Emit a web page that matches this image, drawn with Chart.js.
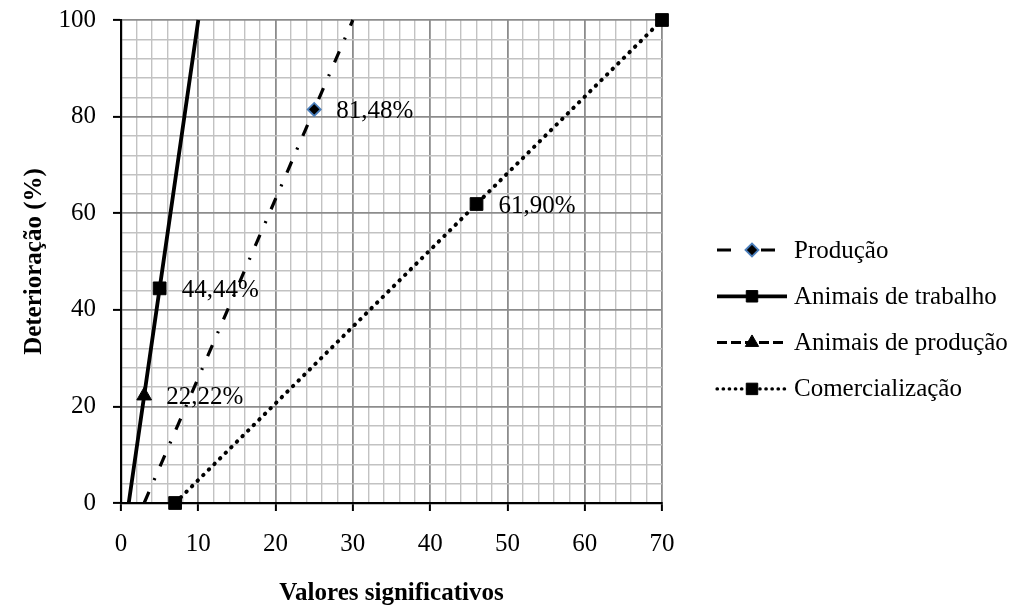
<!DOCTYPE html>
<html><head><meta charset="utf-8">
<script src="https://cdn.jsdelivr.net/npm/chart.js@4.4.1/dist/chart.umd.min.js"></script>
<style>html,body{margin:0;padding:0;background:#fff}#wrap{position:relative;width:1029px;height:610px}</style>
</head><body><div id="wrap"><canvas id="c"></canvas></div>
<script>
const seriesNames = ['Produção', 'Animais de trabalho', 'Animais de produção', 'Comercialização'];
const producaoX = [3, 25, 30];
const producaoY = [0, 81.48, 100];
const trabalhoX = [1, 5, 10];
const trabalhoY = [0, 44.44, 100];
const animaisProdX = [3];
const animaisProdY = [22.22];
const comercX = [7, 46, 70];
const comercY = [0, 61.90, 100];
const labelledPoints = [[0, 1], [1, 1], [2, 0], [3, 1]]; // [dataset, point index]
const xTickLabels = [0, 10, 20, 30, 40, 50, 60, 70];
const yTickLabels = [0, 20, 40, 60, 80, 100];
const xTitle = 'Valores significativos';
const yTitle = 'Deterioração (%)';

const FAMILY = "'Liberation Serif', 'Times New Roman', serif";
const FS = 25;
const pts = (xs, ys) => xs.map((x, i) => ({x: x, y: ys[i]}));
const fmt = v => v.toFixed(2).replace('.', ',') + '%';

const datasets = [
  {label: seriesNames[0], data: pts(producaoX, producaoY), showLine: true,
   borderColor: '#000', borderWidth: 3.2, borderDash: [12, 13, 2, 13], borderDashOffset: 0,
   pointStyle: 'rectRot', pointRadius: [0, 6.5, 0], pointBackgroundColor: '#000',
   pointBorderColor: '#4a7ebb', pointBorderWidth: 1.8,
   legendDash: [14, 30], legendWidth: 3.2, clip: false},
  {label: seriesNames[1], data: pts(trabalhoX, trabalhoY), showLine: true,
   borderColor: '#000', borderWidth: 3.8, borderDash: [],
   pointStyle: 'rect', pointRadius: [0, 9, 0], pointBackgroundColor: '#000',
   pointBorderColor: '#000', pointBorderWidth: 1,
   legendDash: [], legendWidth: 3.8, clip: false},
  {label: seriesNames[2], data: pts(animaisProdX, animaisProdY), showLine: true,
   borderColor: '#000', borderWidth: 3, borderDash: [10, 4],
   pointStyle: 'triangle', pointRadius: 8.5, pointBackgroundColor: '#000',
   pointBorderColor: '#000', pointBorderWidth: 1,
   legendDash: [10, 4], legendWidth: 3, clip: false},
  {label: seriesNames[3], data: pts(comercX, comercY), showLine: true,
   borderColor: '#000', borderWidth: 4, borderDash: [0.5, 7.4], borderCapStyle: 'round',
   pointStyle: 'rect', pointRadius: 9, pointBackgroundColor: '#000',
   pointBorderColor: '#000', pointBorderWidth: 1,
   legendDash: [0.5, 5.6], legendWidth: 3.2, clip: false}
];

function drawMarker(ctx, style, x, y, r, fill, stroke, bw) {
  ctx.save();
  ctx.setLineDash([]);
  ctx.beginPath();
  if (style === 'rect') {
    const s = r * Math.SQRT1_2;
    ctx.rect(x - s, y - s, 2 * s, 2 * s);
  } else if (style === 'rectRot') {
    ctx.moveTo(x - r, y); ctx.lineTo(x, y - r); ctx.lineTo(x + r, y); ctx.lineTo(x, y + r); ctx.closePath();
  } else if (style === 'triangle') {
    let a = 0;
    ctx.moveTo(x + Math.sin(a) * r, y - Math.cos(a) * r);
    a += 2 * Math.PI / 3; ctx.lineTo(x + Math.sin(a) * r, y - Math.cos(a) * r);
    a += 2 * Math.PI / 3; ctx.lineTo(x + Math.sin(a) * r, y - Math.cos(a) * r);
    ctx.closePath();
  }
  ctx.fillStyle = fill; ctx.fill();
  ctx.lineWidth = bw; ctx.strokeStyle = stroke; ctx.stroke();
  ctx.restore();
}

const overlay = {
  id: 'overlay',
  afterDatasetsDraw(chart) {
    const ctx = chart.ctx;
    ctx.save();
    ctx.font = FS + 'px ' + FAMILY;
    ctx.fillStyle = '#000';
    ctx.textAlign = 'left';
    ctx.textBaseline = 'middle';
    labelledPoints.forEach(([d, i]) => {
      const el = chart.getDatasetMeta(d).data[i];
      const v = chart.data.datasets[d].data[i].y;
      ctx.fillText(fmt(v), el.x + 22, el.y + 2);
    });
    ctx.restore();
  },
  afterDraw(chart) {
    const ctx = chart.ctx;
    const area = chart.chartArea;
    const x0 = area.right + 55, len = 70;
    chart.data.datasets.forEach((ds, i) => {
      const y = area.top + 230 + i * 46.3;
      ctx.save();
      ctx.strokeStyle = '#000';
      ctx.lineWidth = ds.legendWidth;
      ctx.lineCap = ds.borderCapStyle || 'butt';
      ctx.setLineDash(ds.legendDash);
      ctx.beginPath(); ctx.moveTo(x0, y); ctx.lineTo(x0 + len, y); ctx.stroke();
      ctx.restore();
      const r = Array.isArray(ds.pointRadius) ? Math.max(...ds.pointRadius) : ds.pointRadius;
      drawMarker(ctx, ds.pointStyle, x0 + 35, y, r * (ds.pointStyle === 'rectRot' ? 1 : 0.9),
        ds.pointBackgroundColor, ds.pointBorderColor, ds.pointBorderWidth);
      ctx.save();
      ctx.font = FS + 'px ' + FAMILY;
      ctx.fillStyle = '#000';
      ctx.textAlign = 'left';
      ctx.textBaseline = 'middle';
      ctx.fillText(ds.label, x0 + 77, y + 1);
      ctx.restore();
    });
  }
};

const gridColor = (step) => (c) => (c.tick && c.tick.value % step === 0) ? '#8c8c8c' : '#c2c2c2';
const gridWidth = (step) => (c) => (c.tick && c.tick.value % step === 0) ? 1.8 : 1.4;
const tickColor = (step) => (c) => (c.tick && c.tick.value % step === 0) ? '#000' : 'rgba(0,0,0,0)';

new Chart(document.getElementById('c'), {
  type: 'scatter',
  data: {datasets: datasets},
  plugins: [overlay],
  options: {
    responsive: true, maintainAspectRatio: false, animation: false, devicePixelRatio: 1,
    events: [],
    layout: {padding: {left: 0, top: 20, right: 367, bottom: 0}},
    plugins: {legend: {display: false}, tooltip: {enabled: false}},
    scales: {
      x: {
        type: 'linear', min: 0, max: 70,
        ticks: {stepSize: 2, autoSkip: false, maxRotation: 0, color: '#000', padding: 18,
          font: {family: FAMILY, size: FS},
          callback: v => xTickLabels.includes(v) ? String(v) : ''},
        grid: {color: gridColor(10), lineWidth: gridWidth(10), tickColor: tickColor(10), tickLength: 8, tickWidth: 2},
        border: {color: '#000', width: 2.2},
        title: {display: true, text: xTitle, color: '#000', font: {family: FAMILY, size: FS, weight: 'bold'}, padding: {top: 0, bottom: 1}},
        afterFit: s => { s.height = 107; s.paddingLeft = 0; s.paddingRight = 0; }
      },
      y: {
        type: 'linear', min: 0, max: 100,
        ticks: {stepSize: 4, autoSkip: false, color: '#000', padding: 17,
          font: {family: FAMILY, size: FS},
          callback: v => yTickLabels.includes(v) ? String(v) : ''},
        grid: {color: gridColor(20), lineWidth: gridWidth(20), tickColor: tickColor(20), tickLength: 8, tickWidth: 2},
        border: {color: '#000', width: 2.2},
        title: {display: true, text: yTitle, color: '#000', font: {family: FAMILY, size: FS, weight: 'bold'}, padding: {top: 20, bottom: 0}},
        afterFit: s => { s.width = 121; s.paddingTop = 0; s.paddingBottom = 0; }
      }
    }
  }
});
</script></body></html>
